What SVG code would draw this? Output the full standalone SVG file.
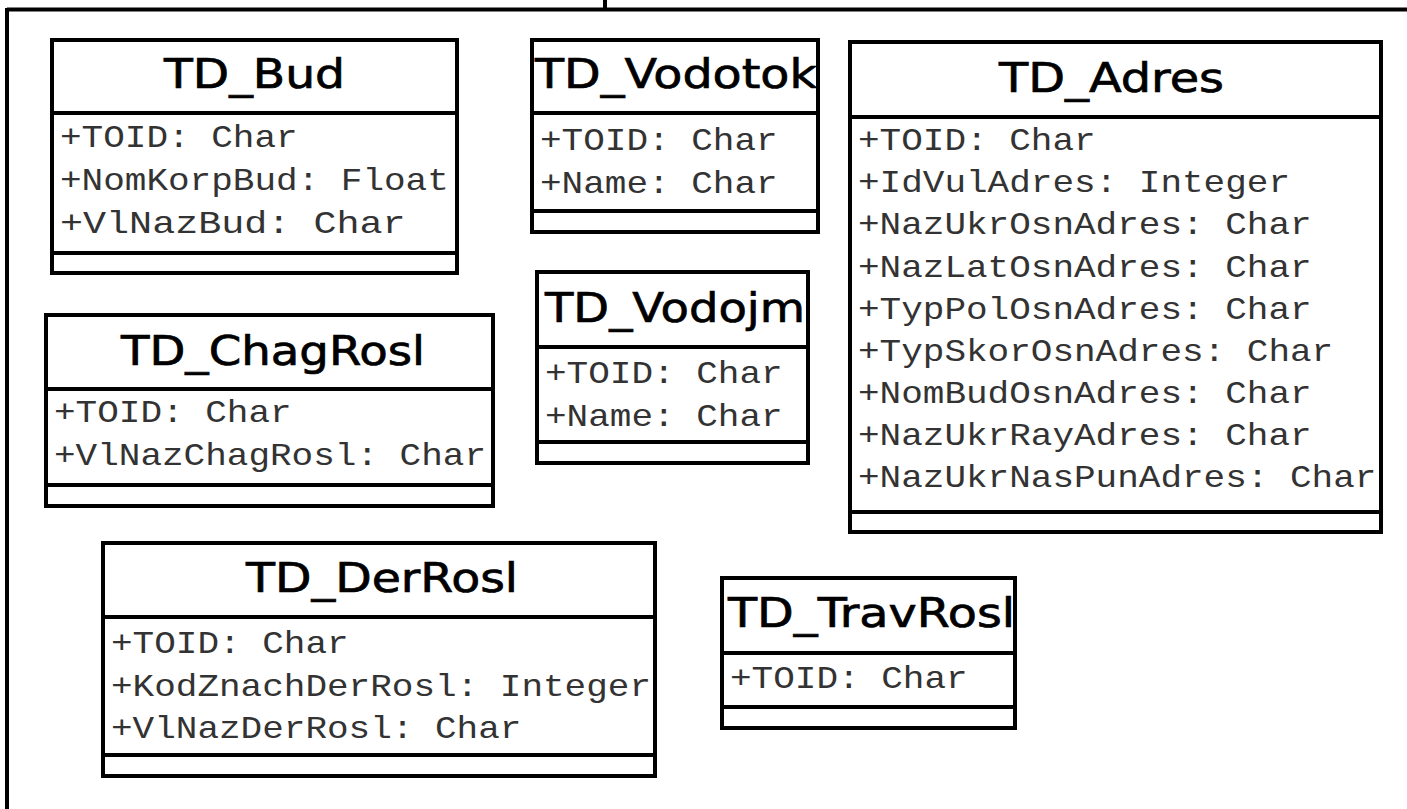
<svg xmlns="http://www.w3.org/2000/svg" width="1407" height="809" viewBox="0 0 1407 809">
<style>
.box{fill:#fff;stroke:#000;stroke-width:4}
.sep{stroke:#000;stroke-width:4}
.frame{stroke:#000;stroke-width:4;fill:none}
.title{font-family:"DejaVu Sans",Verdana,sans-serif;font-size:41px;fill:#000;stroke:#000;stroke-width:0.7;text-anchor:middle}
.attr{font-family:"Liberation Mono","Courier New",monospace;font-size:32px;fill:#333}
</style>
<rect x="0" y="0" width="1407" height="809" fill="#fff"/>
<g id="frame">
<line class="frame" x1="7" y1="9.5" x2="1407" y2="9.5"/>
<line class="frame" x1="7" y1="8" x2="7" y2="809"/>
<line class="frame" x1="605" y1="0" x2="605" y2="10"/>
</g>
<g id="connectors"></g>
<g id="TD_Bud">
<rect class="box" x="52" y="40" width="405" height="233"/>
<line class="sep" x1="52" y1="113" x2="457" y2="113"/>
<line class="sep" x1="52" y1="253" x2="457" y2="253"/>
<text class="title" x="254.5" y="88" textLength="181" lengthAdjust="spacingAndGlyphs">TD_Bud</text>
<text class="attr" x="60" y="147" textLength="237.6" lengthAdjust="spacingAndGlyphs">+TOID: Char</text>
<text class="attr" x="60" y="190" textLength="388.8" lengthAdjust="spacingAndGlyphs">+NomKorpBud: Float</text>
<text class="attr" x="60" y="233" textLength="345.6" lengthAdjust="spacingAndGlyphs">+VlNazBud: Char</text>
</g>
<g id="TD_Vodotok">
<rect class="box" x="532" y="40" width="286" height="192"/>
<line class="sep" x1="532" y1="113" x2="818" y2="113"/>
<line class="sep" x1="532" y1="211" x2="818" y2="211"/>
<text class="title" x="676" y="88" textLength="282" lengthAdjust="spacingAndGlyphs">TD_Vodotok</text>
<text class="attr" x="540" y="150" textLength="237.6" lengthAdjust="spacingAndGlyphs">+TOID: Char</text>
<text class="attr" x="540" y="193" textLength="237.6" lengthAdjust="spacingAndGlyphs">+Name: Char</text>
</g>
<g id="TD_Adres">
<rect class="box" x="850" y="42" width="531" height="490"/>
<line class="sep" x1="850" y1="117" x2="1381" y2="117"/>
<line class="sep" x1="850" y1="512" x2="1381" y2="512"/>
<text class="title" x="1111.5" y="92" textLength="225" lengthAdjust="spacingAndGlyphs">TD_Adres</text>
<text class="attr" x="858" y="150" textLength="237.6" lengthAdjust="spacingAndGlyphs">+TOID: Char</text>
<text class="attr" x="858" y="192" textLength="432" lengthAdjust="spacingAndGlyphs">+IdVulAdres: Integer</text>
<text class="attr" x="858" y="234" textLength="453.6" lengthAdjust="spacingAndGlyphs">+NazUkrOsnAdres: Char</text>
<text class="attr" x="858" y="277" textLength="453.6" lengthAdjust="spacingAndGlyphs">+NazLatOsnAdres: Char</text>
<text class="attr" x="858" y="319" textLength="453.6" lengthAdjust="spacingAndGlyphs">+TypPolOsnAdres: Char</text>
<text class="attr" x="858" y="361" textLength="475.2" lengthAdjust="spacingAndGlyphs">+TypSkorOsnAdres: Char</text>
<text class="attr" x="858" y="403" textLength="453.6" lengthAdjust="spacingAndGlyphs">+NomBudOsnAdres: Char</text>
<text class="attr" x="858" y="445" textLength="453.6" lengthAdjust="spacingAndGlyphs">+NazUkrRayAdres: Char</text>
<text class="attr" x="858" y="487" textLength="518.4" lengthAdjust="spacingAndGlyphs">+NazUkrNasPunAdres: Char</text>
</g>
<g id="TD_ChagRosl">
<rect class="box" x="46" y="315" width="447" height="191"/>
<line class="sep" x1="46" y1="389" x2="493" y2="389"/>
<line class="sep" x1="46" y1="485" x2="493" y2="485"/>
<text class="title" x="273" y="365" textLength="304" lengthAdjust="spacingAndGlyphs">TD_ChagRosl</text>
<text class="attr" x="54" y="422" textLength="237.6" lengthAdjust="spacingAndGlyphs">+TOID: Char</text>
<text class="attr" x="54" y="465" textLength="432" lengthAdjust="spacingAndGlyphs">+VlNazChagRosl: Char</text>
</g>
<g id="TD_Vodojm">
<rect class="box" x="537" y="272" width="271" height="191"/>
<line class="sep" x1="537" y1="347" x2="808" y2="347"/>
<line class="sep" x1="537" y1="442" x2="808" y2="442"/>
<text class="title" x="675" y="322" textLength="260" lengthAdjust="spacingAndGlyphs">TD_Vodojm</text>
<text class="attr" x="545" y="383" textLength="237.6" lengthAdjust="spacingAndGlyphs">+TOID: Char</text>
<text class="attr" x="545" y="426" textLength="237.6" lengthAdjust="spacingAndGlyphs">+Name: Char</text>
</g>
<g id="TD_DerRosl">
<rect class="box" x="103" y="543" width="552" height="233"/>
<line class="sep" x1="103" y1="617" x2="655" y2="617"/>
<line class="sep" x1="103" y1="755" x2="655" y2="755"/>
<text class="title" x="382" y="592" textLength="272" lengthAdjust="spacingAndGlyphs">TD_DerRosl</text>
<text class="attr" x="111" y="653" textLength="237.6" lengthAdjust="spacingAndGlyphs">+TOID: Char</text>
<text class="attr" x="111" y="696" textLength="540" lengthAdjust="spacingAndGlyphs">+KodZnachDerRosl: Integer</text>
<text class="attr" x="111" y="738" textLength="410.4" lengthAdjust="spacingAndGlyphs">+VlNazDerRosl: Char</text>
</g>
<g id="TD_TravRosl">
<rect class="box" x="722" y="578" width="293" height="150"/>
<line class="sep" x1="722" y1="653" x2="1015" y2="653"/>
<line class="sep" x1="722" y1="707" x2="1015" y2="707"/>
<text class="title" x="871.5" y="627" textLength="287" lengthAdjust="spacingAndGlyphs">TD_TravRosl</text>
<text class="attr" x="730" y="688" textLength="237.6" lengthAdjust="spacingAndGlyphs">+TOID: Char</text>
</g>
</svg>
